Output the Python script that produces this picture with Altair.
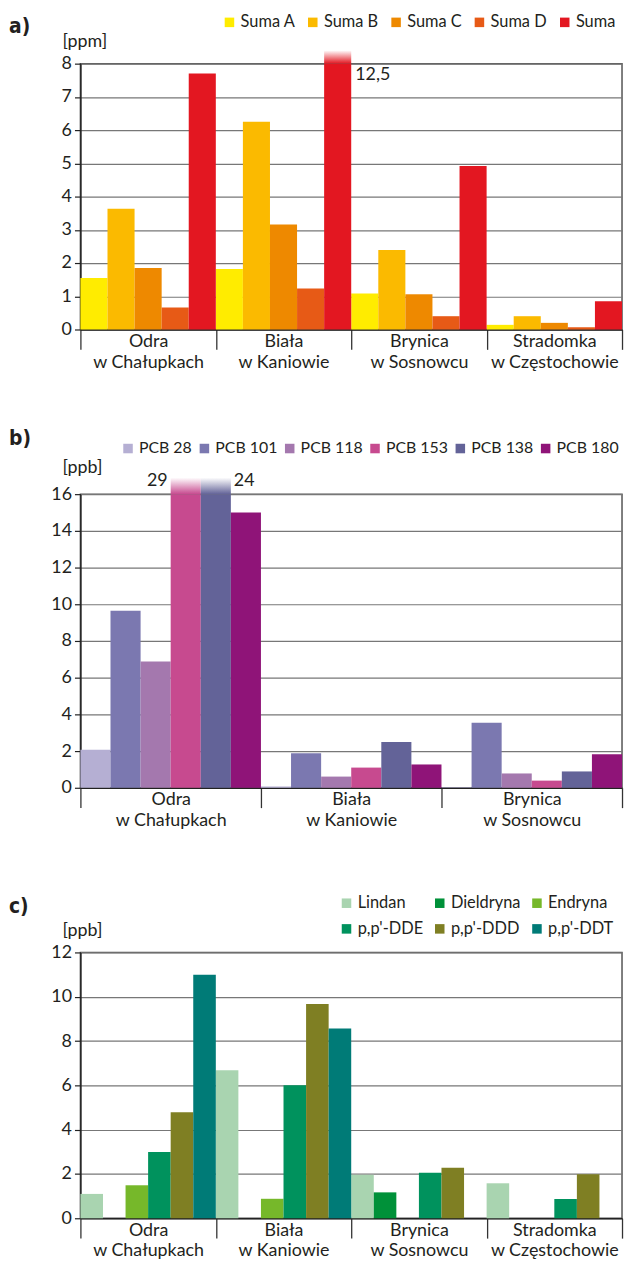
import altair as alt
import pandas as pd

FONT = "Lato"
TAGFONT = "DejaVu Sans Condensed"
TXT = "#231f20"

# ---------------- panel a ----------------
cats_a = ["Odra|w Chałupkach", "Biała|w Kaniowie", "Brynica|w Sosnowcu", "Stradomka|w Częstochowie"]
series_a = ["Suma A", "Suma B", "Suma C", "Suma D", "Suma"]
colors_a = ["#FFEC00", "#FBBA00", "#EE8900", "#E75A16", "#E31721"]
suma_a = [1.55, 1.82, 1.08, 0.14]
suma_b = [3.63, 6.25, 2.39, 0.40]
suma_c = [1.85, 3.16, 1.06, 0.20]
suma_d = [0.66, 1.23, 0.40, 0.07]
suma = [7.70, 12.5, 4.92, 0.85]

# ---------------- panel b ----------------
cats_b = ["Odra|w Chałupkach", "Biała|w Kaniowie", "Brynica|w Sosnowcu"]
series_b = ["PCB 28", "PCB 101", "PCB 118", "PCB 153", "PCB 138", "PCB 180"]
colors_b = ["#B5AFD3", "#7B78B0", "#A478AE", "#C74A8F", "#636398", "#8F1478"]
pcb28 = [2.07, 0.07, 0.03]
pcb101 = [9.65, 1.88, 3.55]
pcb118 = [6.88, 0.61, 0.78]
pcb153 = [29, 1.10, 0.39]
pcb138 = [24, 2.50, 0.89]
pcb180 = [15.0, 1.27, 1.83]

# ---------------- panel c ----------------
cats_c = ["Odra|w Chałupkach", "Biała|w Kaniowie", "Brynica|w Sosnowcu", "Stradomka|w Częstochowie"]
series_c = ["Lindan", "Dieldryna", "Endryna", "p,p'-DDE", "p,p'-DDD", "p,p'-DDT"]
colors_c = ["#A9D4B0", "#009139", "#76B82A", "#00925D", "#7F7F23", "#007B77"]
lindan = [1.10, 6.68, 1.97, 1.58]
dieldryna = [0, 0, 1.17, 0]
endryna = [1.49, 0.88, 0, 0]
dde = [2.99, 6.01, 2.06, 0.87]
ddd = [4.79, 9.67, 2.28, 1.99]
ddt = [10.99, 8.57, 0, 0]

one_row = alt.Data(values=[{"t": 0}])
AX = 18   # axis label size


def free_text(text, x, y, font=FONT, size=17, weight="normal"):
    return alt.Chart(one_row).mark_text(
        text=text, align="left", baseline="middle", font=font, fontSize=size,
        fontWeight=weight, color=TXT,
    ).encode(x=alt.value(x), y=alt.value(y))


def panel(cats, series, colors, values, ymax, ystep, w, h, tag, unit,
          tag_y, unit_y, leg_x, leg_y, leg_cols, leg_colpad, leg_size, ext, label_side):
    rows = []
    for s, vals in zip(series, values):
        for c, v in zip(cats, vals):
            rows.append({"cat": c, "series": s, "v": v,
                         "lab": f"{v:g}".replace(".", ",")})
    df = pd.DataFrame(rows)

    x_axis = alt.Axis(title=None, labelExpr="split(datum.label, '|')", tickBand="extent",
                      tickSize=20, tickColor="#333", tickWidth=1.3, domainColor="#222",
                      domainWidth=1.5, labelFont=FONT, labelFontSize=AX, labelColor=TXT,
                      labelPadding=-17, labelAngle=0, labelLineHeight=21, labelOverlap=False,
                      labelBaseline="top")
    y_axis = alt.Axis(title=None, values=list(range(0, ymax + 1, ystep)), grid=True,
                      gridColor="#777", gridWidth=1.2, tickSize=6, tickColor="#222",
                      tickWidth=1.2, domainColor="#222", domainWidth=1.5, labelFont=FONT,
                      labelFontSize=AX, labelColor=TXT, labelPadding=3)
    x_enc = alt.X("cat:N", sort=cats, scale=alt.Scale(paddingInner=0, paddingOuter=0), axis=x_axis)
    xo_enc = alt.XOffset("series:N", sort=series, scale=alt.Scale(paddingInner=0, paddingOuter=0))
    y_scale = alt.Scale(domain=[0, ymax], nice=False, zero=True)

    base = alt.Chart(df)
    bars = base.transform_calculate(vc=f"min(datum.v, {ymax})").mark_bar().encode(
        x=x_enc, xOffset=xo_enc,
        y=alt.Y("vc:Q", scale=y_scale, axis=y_axis),
        color=alt.Color("series:N", sort=series,
                        scale=alt.Scale(domain=series, range=colors),
                        legend=alt.Legend(title=None, orient="none", legendX=leg_x, legendY=leg_y,
                                          direction="horizontal", columns=leg_cols,
                                          symbolType="square", symbolSize=92,
                                          symbolStrokeWidth=0, labelFont=FONT,
                                          labelFontSize=leg_size, labelColor=TXT,
                                          columnPadding=leg_colpad, rowPadding=9,
                                          labelOffset=3, padding=0)),
    )
    layers = [bars]
    bw = w / (len(cats) * len(series))
    for s, side in label_side.items():
        col = colors[series.index(s)]
        grad = {"gradient": "linear", "x1": 0, "x2": 0, "y1": 1, "y2": 0,
                "stops": [{"offset": 0, "color": col}, {"offset": 1, "color": "#ffffff"}]}
        sel = base.transform_filter(
            f"datum.v > {ymax} && datum.series == '{s}'"
        ).transform_calculate(y0=f"{ymax}", y1=f"{ymax + ext}")
        layers.append(sel.mark_bar(color=grad).encode(
            x=x_enc, xOffset=xo_enc,
            y=alt.Y("y0:Q", scale=y_scale, axis=y_axis), y2="y1:Q"))
        if side == "left":
            txt = sel.mark_text(align="right", baseline="middle", dx=-(bw / 2 + 3), dy=-13,
                                font=FONT, fontSize=AX, color=TXT)
        elif side == "right":
            txt = sel.mark_text(align="left", baseline="middle", dx=bw / 2 + 3, dy=-13,
                                font=FONT, fontSize=AX, color=TXT)
        else:
            txt = sel.mark_text(align="left", baseline="middle", dx=bw / 2 + 4, dy=11,
                                font=FONT, fontSize=AX, color=TXT)
        layers.append(txt.encode(x=x_enc, xOffset=xo_enc,
                                 y=alt.Y("y0:Q", scale=y_scale, axis=y_axis), text="lab:N"))
    layers.append(free_text(tag, -72, tag_y, font=TAGFONT, size=21, weight="bold"))
    layers.append(free_text(unit, -18, unit_y, size=AX))
    return alt.layer(*layers).properties(width=w, height=h)


W = 546
pa = panel(cats_a, series_a, colors_a, [suma_a, suma_b, suma_c, suma_d, suma],
           8, 1, W, 268, "a)", "[ppm]", -37, -22, 142, -50, 5, 9, 16.5, 0.4,
           {"Suma": "below"})
pb = panel(cats_b, series_b, colors_b, [pcb28, pcb101, pcb118, pcb153, pcb138, pcb180],
           16, 2, W, 296, "b)", "[ppb]", -56, -26, 40, -54, 6, 4, 16, 0.9,
           {"PCB 153": "left", "PCB 138": "right"})
pc = panel(cats_c, series_c, colors_c, [lindan, dieldryna, endryna, dde, ddd, ddt],
           12, 2, W, 268, "c)", "[ppb]", -46, -22, 260, -58, 3, 8, 16.5, 0.0,
           {})

chart = alt.vconcat(pa, pb, pc, spacing=166, bounds="flush").properties(
    padding=0
).resolve_scale(
    x="independent", y="independent", color="independent", xOffset="independent"
).resolve_legend(color="independent").configure_view(stroke="#555", strokeWidth=1.5)

chart.save("out.html", embed_options={"renderer": "svg", "actions": False})
